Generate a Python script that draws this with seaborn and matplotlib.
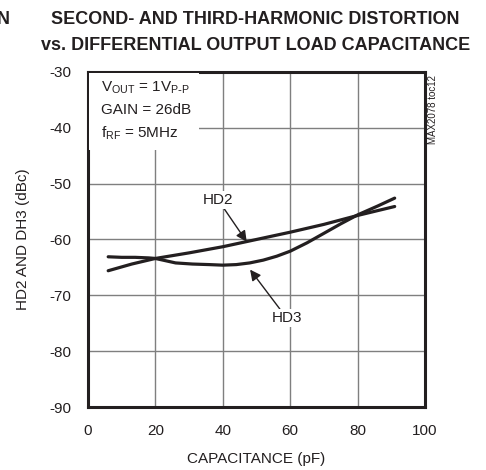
import matplotlib.pyplot as plt
import seaborn as sns
import pandas as pd
from matplotlib import font_manager

# values
hd2_cap = [6, 13, 20, 30, 40, 50, 60, 70, 80, 91]
hd2_dbc = [-65.6, -64.4, -63.4, -62.4, -61.3, -60.0, -58.7, -57.3, -55.7, -54.1]

hd3_cap = [6, 10, 14, 18, 20, 23, 26, 31, 36, 40, 44, 48, 52, 56, 60, 65, 70, 75, 80, 86, 91]
hd3_dbc = [-63.1, -63.2, -63.2, -63.3, -63.4, -63.8, -64.2, -64.4, -64.5, -64.6, -64.5, -64.2, -63.7, -63.0, -62.1, -60.6, -58.9, -57.2, -55.6, -54.0, -52.6]

xticks = [0, 20, 40, 60, 80, 100]
yticks = [-30, -40, -50, -60, -70, -80, -90]

sns.set_theme(style="white")
plt.rcParams['font.family'] = ['Liberation Sans', 'DejaVu Sans']
plt.rcParams['axes.unicode_minus'] = False
ink = '#231f20'

# narrow bold face for the title if it is there
installed = {f.name for f in font_manager.fontManager.ttflist}
if 'Liberation Sans Narrow' in installed:
    title_font, title_size = ['Liberation Sans Narrow', 'Liberation Sans'], 15
else:
    title_font, title_size = ['Liberation Sans', 'DejaVu Sans'], 13

hd2 = pd.DataFrame({'cap': hd2_cap, 'dbc': hd2_dbc})
hd3 = pd.DataFrame({'cap': hd3_cap, 'dbc': hd3_dbc})

fig = plt.figure(figsize=(4.86, 4.70), dpi=100)
ax = fig.add_axes([0.181, 0.134, 0.6935, 0.713])

sns.lineplot(data=hd2, x='cap', y='dbc', ax=ax, color=ink, linewidth=2.3)
sns.lineplot(data=hd3, x='cap', y='dbc', ax=ax, color=ink, linewidth=2.3)

ax.set_xlim(0, 100)
ax.set_ylim(-90, -30)
ax.set_xticks(xticks)
ax.set_yticks(yticks)
ax.tick_params(length=0, labelsize=11, colors=ink)
ax.tick_params(axis='y', pad=12)
ax.tick_params(axis='x', pad=12)
ax.grid(True, color='#7f7f7f', linewidth=1.0)
ax.set_axisbelow(True)
for s in ax.spines.values():
    s.set_color(ink)
    s.set_linewidth(2.2)

ax.set_xlabel('CAPACITANCE (pF)', fontsize=11, color=ink, labelpad=10)
ax.set_ylabel('HD2 AND DH3 (dBc)', fontsize=11, color=ink, labelpad=14)

# conditions box (white background hides the grid behind it)
ax.add_patch(plt.Rectangle((0.4, -43.9), 32.5, 13.7, facecolor='white', edgecolor='none', zorder=4))
ax.text(4, -31.4, '$\\mathregular{V_{OUT}}$ = 1$\\mathregular{V_{P\\text{-}P}}$', fontsize=11,
        va='top', ha='left', color=ink, zorder=5)
ax.text(4, -35.5, 'GAIN = 26dB', fontsize=11, va='top', ha='left', color=ink, zorder=5)
ax.text(4, -39.5, '$\\mathregular{f_{RF}}$ = 5MHz', fontsize=11, va='top', ha='left',
        color=ink, zorder=5)

ax.text(102.5, -30.6, 'MAX2078 toc12', rotation=90, fontsize=7, va='top', ha='center',
        color=ink, clip_on=False)

# curve labels with arrows
arrow = dict(arrowstyle='-|>', color=ink, lw=1.0, mutation_scale=16, shrinkA=0, shrinkB=0)
ax.annotate('HD2', xy=(47.1, -60.4), xytext=(38.6, -52.9), fontsize=11, ha='center', va='center',
            color=ink, arrowprops=arrow, bbox=dict(facecolor='white', edgecolor='none', pad=1.5))
ax.annotate('HD3', xy=(48.1, -65.4), xytext=(59, -74.1), fontsize=11, ha='center', va='center',
            color=ink, arrowprops=arrow, bbox=dict(facecolor='white', edgecolor='none', pad=1.5))

fig.text(0.525, 0.958, 'SECOND- AND THIRD-HARMONIC DISTORTION', family=title_font, fontsize=title_size,
         fontweight='bold', ha='center', va='center', color=ink)
fig.text(0.525, 0.903, 'vs. DIFFERENTIAL OUTPUT LOAD CAPACITANCE', family=title_font, fontsize=title_size,
         fontweight='bold', ha='center', va='center', color=ink)
fig.text(-0.006, 0.958, 'N', family=title_font, fontsize=title_size, fontweight='bold',
         ha='left', va='center', color=ink)

fig.savefig('out.png', dpi=100)
